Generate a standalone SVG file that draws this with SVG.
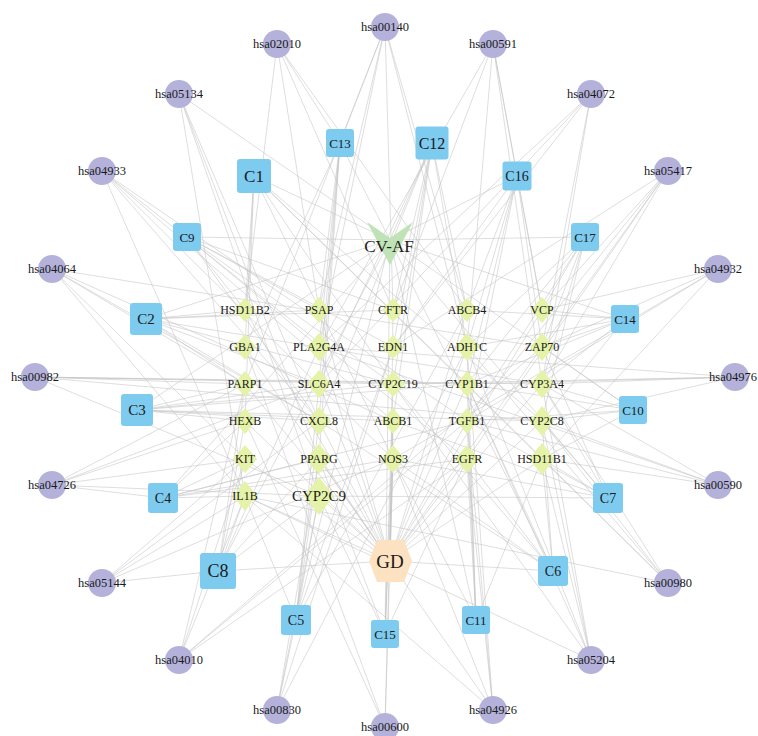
<svg xmlns="http://www.w3.org/2000/svg" width="758" height="736" viewBox="0 0 758 736">
<style>
  .bg { fill: #ffffff; }
  .edges line { stroke: #c3c3c3; stroke-width: 0.55; }
  .path circle { fill: #b4b2da; }
  .comp rect { fill: #7ecbf0; }
  .gene polygon { fill: #e5f3a8; }
  text { font-family: "Liberation Serif", "Times New Roman", serif; fill: #1a1a1a; text-anchor: middle; }
  .lp { font-size: 12.5px; }
  .lg { font-size: 12px; }
</style>
<rect class="bg" x="0" y="0" width="758" height="736"/>

<!-- connectors -->
<g id="edges" class="edges">
  <!-- CV-AF to compounds -->
  <line x1="390" y1="240" x2="254" y2="176"/>
  <line x1="390" y1="240" x2="146" y2="319"/>
  <line x1="390" y1="240" x2="137" y2="410"/>
  <line x1="390" y1="240" x2="163" y2="498"/>
  <line x1="390" y1="240" x2="296" y2="620"/>
  <line x1="390" y1="240" x2="553" y2="571"/>
  <line x1="390" y1="240" x2="608" y2="498"/>
  <line x1="390" y1="240" x2="218" y2="571"/>
  <line x1="390" y1="240" x2="187" y2="237"/>
  <line x1="390" y1="240" x2="633" y2="410"/>
  <line x1="390" y1="240" x2="476" y2="620"/>
  <line x1="390" y1="240" x2="432" y2="143"/>
  <line x1="390" y1="240" x2="340" y2="143"/>
  <line x1="390" y1="240" x2="625" y2="319"/>
  <line x1="390" y1="240" x2="385" y2="634"/>
  <line x1="390" y1="240" x2="517" y2="176"/>
  <line x1="390" y1="240" x2="585" y2="237"/>
  <!-- GD to targets -->
  <line x1="390" y1="561" x2="245" y2="310"/>
  <line x1="390" y1="561" x2="319" y2="310"/>
  <line x1="390" y1="561" x2="393" y2="310"/>
  <line x1="390" y1="561" x2="467" y2="310"/>
  <line x1="390" y1="561" x2="542" y2="310"/>
  <line x1="390" y1="561" x2="245" y2="347"/>
  <line x1="390" y1="561" x2="319" y2="347"/>
  <line x1="390" y1="561" x2="467" y2="347"/>
  <line x1="390" y1="561" x2="542" y2="347"/>
  <line x1="390" y1="561" x2="245" y2="384"/>
  <line x1="390" y1="561" x2="319" y2="384"/>
  <line x1="390" y1="561" x2="467" y2="384"/>
  <line x1="390" y1="561" x2="542" y2="384"/>
  <line x1="390" y1="561" x2="245" y2="421"/>
  <line x1="390" y1="561" x2="319" y2="421"/>
  <line x1="390" y1="561" x2="393" y2="421"/>
  <line x1="390" y1="561" x2="467" y2="421"/>
  <line x1="390" y1="561" x2="542" y2="421"/>
  <line x1="390" y1="561" x2="245" y2="459"/>
  <line x1="390" y1="561" x2="319" y2="459"/>
  <line x1="390" y1="561" x2="393" y2="459"/>
  <line x1="390" y1="561" x2="467" y2="459"/>
  <line x1="390" y1="561" x2="542" y2="459"/>
  <line x1="390" y1="561" x2="245" y2="496"/>
  <line x1="390" y1="561" x2="319" y2="496"/>
  <!-- compounds to targets -->
  <line x1="254" y1="176" x2="245" y2="310"/>
  <line x1="254" y1="176" x2="245" y2="347"/>
  <line x1="254" y1="176" x2="245" y2="421"/>
  <line x1="254" y1="176" x2="393" y2="384"/>
  <line x1="254" y1="176" x2="467" y2="384"/>
  <line x1="254" y1="176" x2="542" y2="421"/>
  <line x1="254" y1="176" x2="542" y2="459"/>
  <line x1="254" y1="176" x2="393" y2="459"/>
  <line x1="146" y1="319" x2="245" y2="310"/>
  <line x1="146" y1="319" x2="319" y2="310"/>
  <line x1="146" y1="319" x2="393" y2="310"/>
  <line x1="146" y1="319" x2="245" y2="384"/>
  <line x1="146" y1="319" x2="319" y2="384"/>
  <line x1="146" y1="319" x2="393" y2="384"/>
  <line x1="146" y1="319" x2="319" y2="421"/>
  <line x1="146" y1="319" x2="542" y2="384"/>
  <line x1="137" y1="410" x2="245" y2="384"/>
  <line x1="137" y1="410" x2="319" y2="384"/>
  <line x1="137" y1="410" x2="393" y2="384"/>
  <line x1="137" y1="410" x2="245" y2="421"/>
  <line x1="137" y1="410" x2="319" y2="421"/>
  <line x1="137" y1="410" x2="393" y2="421"/>
  <line x1="137" y1="410" x2="467" y2="384"/>
  <line x1="137" y1="410" x2="542" y2="421"/>
  <line x1="163" y1="498" x2="245" y2="421"/>
  <line x1="163" y1="498" x2="245" y2="459"/>
  <line x1="163" y1="498" x2="245" y2="496"/>
  <line x1="163" y1="498" x2="319" y2="459"/>
  <line x1="163" y1="498" x2="393" y2="459"/>
  <line x1="163" y1="498" x2="467" y2="421"/>
  <line x1="163" y1="498" x2="467" y2="459"/>
  <line x1="296" y1="620" x2="245" y2="496"/>
  <line x1="296" y1="620" x2="319" y2="496"/>
  <line x1="296" y1="620" x2="319" y2="459"/>
  <line x1="296" y1="620" x2="319" y2="421"/>
  <line x1="296" y1="620" x2="319" y2="384"/>
  <line x1="296" y1="620" x2="393" y2="347"/>
  <line x1="296" y1="620" x2="467" y2="310"/>
  <line x1="553" y1="571" x2="542" y2="459"/>
  <line x1="553" y1="571" x2="542" y2="421"/>
  <line x1="553" y1="571" x2="467" y2="384"/>
  <line x1="553" y1="571" x2="393" y2="459"/>
  <line x1="553" y1="571" x2="467" y2="459"/>
  <line x1="553" y1="571" x2="393" y2="384"/>
  <line x1="553" y1="571" x2="319" y2="421"/>
  <line x1="553" y1="571" x2="390" y2="561"/>
  <line x1="608" y1="498" x2="542" y2="459"/>
  <line x1="608" y1="498" x2="542" y2="421"/>
  <line x1="608" y1="498" x2="542" y2="384"/>
  <line x1="608" y1="498" x2="542" y2="347"/>
  <line x1="608" y1="498" x2="467" y2="421"/>
  <line x1="608" y1="498" x2="393" y2="421"/>
  <line x1="608" y1="498" x2="319" y2="496"/>
  <line x1="608" y1="498" x2="393" y2="459"/>
  <line x1="218" y1="571" x2="245" y2="496"/>
  <line x1="218" y1="571" x2="245" y2="459"/>
  <line x1="218" y1="571" x2="319" y2="496"/>
  <line x1="218" y1="571" x2="319" y2="459"/>
  <line x1="218" y1="571" x2="245" y2="421"/>
  <line x1="218" y1="571" x2="245" y2="384"/>
  <line x1="218" y1="571" x2="319" y2="347"/>
  <line x1="218" y1="571" x2="390" y2="561"/>
  <line x1="187" y1="237" x2="245" y2="310"/>
  <line x1="187" y1="237" x2="319" y2="310"/>
  <line x1="187" y1="237" x2="393" y2="310"/>
  <line x1="187" y1="237" x2="319" y2="347"/>
  <line x1="187" y1="237" x2="393" y2="347"/>
  <line x1="187" y1="237" x2="393" y2="384"/>
  <line x1="187" y1="237" x2="319" y2="421"/>
  <line x1="633" y1="410" x2="542" y2="384"/>
  <line x1="633" y1="410" x2="542" y2="421"/>
  <line x1="633" y1="410" x2="467" y2="384"/>
  <line x1="633" y1="410" x2="542" y2="459"/>
  <line x1="633" y1="410" x2="467" y2="421"/>
  <line x1="633" y1="410" x2="542" y2="347"/>
  <line x1="476" y1="620" x2="467" y2="459"/>
  <line x1="476" y1="620" x2="467" y2="421"/>
  <line x1="476" y1="620" x2="393" y2="459"/>
  <line x1="476" y1="620" x2="467" y2="384"/>
  <line x1="476" y1="620" x2="467" y2="347"/>
  <line x1="476" y1="620" x2="542" y2="459"/>
  <line x1="432" y1="143" x2="393" y2="310"/>
  <line x1="432" y1="143" x2="393" y2="347"/>
  <line x1="432" y1="143" x2="467" y2="310"/>
  <line x1="432" y1="143" x2="467" y2="347"/>
  <line x1="432" y1="143" x2="393" y2="384"/>
  <line x1="432" y1="143" x2="393" y2="421"/>
  <line x1="432" y1="143" x2="319" y2="384"/>
  <line x1="432" y1="143" x2="319" y2="421"/>
  <line x1="340" y1="143" x2="319" y2="310"/>
  <line x1="340" y1="143" x2="319" y2="347"/>
  <line x1="340" y1="143" x2="319" y2="384"/>
  <line x1="340" y1="143" x2="319" y2="421"/>
  <line x1="340" y1="143" x2="245" y2="347"/>
  <line x1="340" y1="143" x2="319" y2="459"/>
  <line x1="625" y1="319" x2="542" y2="310"/>
  <line x1="625" y1="319" x2="542" y2="347"/>
  <line x1="625" y1="319" x2="467" y2="310"/>
  <line x1="625" y1="319" x2="542" y2="384"/>
  <line x1="625" y1="319" x2="467" y2="347"/>
  <line x1="625" y1="319" x2="467" y2="384"/>
  <line x1="625" y1="319" x2="542" y2="421"/>
  <line x1="385" y1="634" x2="393" y2="459"/>
  <line x1="385" y1="634" x2="393" y2="421"/>
  <line x1="385" y1="634" x2="319" y2="459"/>
  <line x1="385" y1="634" x2="319" y2="496"/>
  <line x1="385" y1="634" x2="467" y2="459"/>
  <line x1="385" y1="634" x2="393" y2="384"/>
  <line x1="517" y1="176" x2="467" y2="310"/>
  <line x1="517" y1="176" x2="467" y2="347"/>
  <line x1="517" y1="176" x2="542" y2="310"/>
  <line x1="517" y1="176" x2="542" y2="347"/>
  <line x1="517" y1="176" x2="467" y2="384"/>
  <line x1="517" y1="176" x2="467" y2="421"/>
  <line x1="517" y1="176" x2="393" y2="347"/>
  <line x1="585" y1="237" x2="542" y2="310"/>
  <line x1="585" y1="237" x2="542" y2="347"/>
  <line x1="585" y1="237" x2="542" y2="384"/>
  <line x1="585" y1="237" x2="467" y2="347"/>
  <line x1="585" y1="237" x2="542" y2="421"/>
  <line x1="585" y1="237" x2="467" y2="384"/>
  <line x1="585" y1="237" x2="467" y2="421"/>
  <!-- pathways to targets -->
  <line x1="385" y1="27" x2="393" y2="310"/>
  <line x1="385" y1="27" x2="319" y2="347"/>
  <line x1="385" y1="27" x2="467" y2="347"/>
  <line x1="385" y1="27" x2="245" y2="384"/>
  <line x1="385" y1="27" x2="319" y2="310"/>
  <line x1="385" y1="27" x2="467" y2="310"/>
  <line x1="385" y1="27" x2="340" y2="143"/>
  <line x1="493" y1="44" x2="319" y2="347"/>
  <line x1="493" y1="44" x2="467" y2="347"/>
  <line x1="493" y1="44" x2="393" y2="310"/>
  <line x1="493" y1="44" x2="542" y2="310"/>
  <line x1="493" y1="44" x2="542" y2="384"/>
  <line x1="493" y1="44" x2="517" y2="176"/>
  <line x1="591" y1="94" x2="319" y2="347"/>
  <line x1="591" y1="94" x2="542" y2="347"/>
  <line x1="591" y1="94" x2="542" y2="384"/>
  <line x1="591" y1="94" x2="319" y2="384"/>
  <line x1="591" y1="94" x2="393" y2="347"/>
  <line x1="668" y1="171" x2="542" y2="310"/>
  <line x1="668" y1="171" x2="542" y2="347"/>
  <line x1="668" y1="171" x2="542" y2="384"/>
  <line x1="668" y1="171" x2="393" y2="347"/>
  <line x1="668" y1="171" x2="467" y2="421"/>
  <line x1="668" y1="171" x2="467" y2="459"/>
  <line x1="718" y1="269" x2="542" y2="310"/>
  <line x1="718" y1="269" x2="542" y2="347"/>
  <line x1="718" y1="269" x2="467" y2="421"/>
  <line x1="718" y1="269" x2="542" y2="459"/>
  <line x1="718" y1="269" x2="393" y2="459"/>
  <line x1="735" y1="377" x2="542" y2="384"/>
  <line x1="735" y1="377" x2="542" y2="421"/>
  <line x1="735" y1="377" x2="393" y2="384"/>
  <line x1="735" y1="377" x2="467" y2="384"/>
  <line x1="735" y1="377" x2="319" y2="347"/>
  <line x1="718" y1="485" x2="542" y2="421"/>
  <line x1="718" y1="485" x2="542" y2="459"/>
  <line x1="718" y1="485" x2="542" y2="384"/>
  <line x1="718" y1="485" x2="319" y2="347"/>
  <line x1="718" y1="485" x2="467" y2="421"/>
  <line x1="668" y1="583" x2="542" y2="459"/>
  <line x1="668" y1="583" x2="542" y2="421"/>
  <line x1="668" y1="583" x2="542" y2="384"/>
  <line x1="668" y1="583" x2="467" y2="384"/>
  <line x1="668" y1="583" x2="467" y2="347"/>
  <line x1="668" y1="583" x2="245" y2="496"/>
  <line x1="591" y1="660" x2="542" y2="459"/>
  <line x1="591" y1="660" x2="542" y2="421"/>
  <line x1="591" y1="660" x2="467" y2="384"/>
  <line x1="591" y1="660" x2="542" y2="384"/>
  <line x1="591" y1="660" x2="393" y2="384"/>
  <line x1="591" y1="660" x2="467" y2="347"/>
  <line x1="591" y1="660" x2="245" y2="496"/>
  <line x1="493" y1="710" x2="467" y2="459"/>
  <line x1="493" y1="710" x2="467" y2="421"/>
  <line x1="493" y1="710" x2="393" y2="459"/>
  <line x1="493" y1="710" x2="467" y2="347"/>
  <line x1="493" y1="710" x2="319" y2="459"/>
  <line x1="493" y1="710" x2="245" y2="496"/>
  <line x1="385" y1="727" x2="393" y2="459"/>
  <line x1="385" y1="727" x2="393" y2="421"/>
  <line x1="385" y1="727" x2="245" y2="347"/>
  <line x1="385" y1="727" x2="245" y2="421"/>
  <line x1="277" y1="710" x2="319" y2="496"/>
  <line x1="277" y1="710" x2="467" y2="347"/>
  <line x1="277" y1="710" x2="393" y2="347"/>
  <line x1="277" y1="710" x2="319" y2="459"/>
  <line x1="277" y1="710" x2="296" y2="620"/>
  <line x1="179" y1="660" x2="245" y2="496"/>
  <line x1="179" y1="660" x2="245" y2="459"/>
  <line x1="179" y1="660" x2="467" y2="459"/>
  <line x1="179" y1="660" x2="467" y2="421"/>
  <line x1="179" y1="660" x2="542" y2="347"/>
  <line x1="179" y1="660" x2="245" y2="384"/>
  <line x1="102" y1="583" x2="245" y2="496"/>
  <line x1="102" y1="583" x2="245" y2="459"/>
  <line x1="102" y1="583" x2="319" y2="421"/>
  <line x1="102" y1="583" x2="393" y2="459"/>
  <line x1="102" y1="583" x2="218" y2="571"/>
  <line x1="52" y1="485" x2="319" y2="384"/>
  <line x1="52" y1="485" x2="319" y2="496"/>
  <line x1="52" y1="485" x2="245" y2="459"/>
  <line x1="52" y1="485" x2="245" y2="421"/>
  <line x1="52" y1="485" x2="245" y2="384"/>
  <line x1="52" y1="485" x2="163" y2="498"/>
  <line x1="35" y1="377" x2="245" y2="384"/>
  <line x1="35" y1="377" x2="393" y2="384"/>
  <line x1="35" y1="377" x2="542" y2="421"/>
  <line x1="35" y1="377" x2="542" y2="384"/>
  <line x1="35" y1="377" x2="467" y2="384"/>
  <line x1="35" y1="377" x2="319" y2="496"/>
  <line x1="52" y1="269" x2="245" y2="496"/>
  <line x1="52" y1="269" x2="245" y2="459"/>
  <line x1="52" y1="269" x2="319" y2="421"/>
  <line x1="52" y1="269" x2="542" y2="347"/>
  <line x1="52" y1="269" x2="393" y2="421"/>
  <line x1="52" y1="269" x2="245" y2="384"/>
  <line x1="102" y1="171" x2="467" y2="459"/>
  <line x1="102" y1="171" x2="467" y2="421"/>
  <line x1="102" y1="171" x2="245" y2="496"/>
  <line x1="102" y1="171" x2="393" y2="459"/>
  <line x1="102" y1="171" x2="319" y2="421"/>
  <line x1="102" y1="171" x2="393" y2="421"/>
  <line x1="179" y1="94" x2="319" y2="421"/>
  <line x1="179" y1="94" x2="245" y2="496"/>
  <line x1="179" y1="94" x2="319" y2="496"/>
  <line x1="179" y1="94" x2="319" y2="459"/>
  <line x1="179" y1="94" x2="390" y2="240"/>
  <line x1="277" y1="44" x2="245" y2="310"/>
  <line x1="277" y1="44" x2="393" y2="310"/>
  <line x1="277" y1="44" x2="467" y2="310"/>
  <line x1="277" y1="44" x2="319" y2="310"/>
  <line x1="277" y1="44" x2="340" y2="143"/>
</g>

<!-- pathway nodes -->
<g id="hsa00140" class="path"><circle cx="385" cy="27" r="14"/><text class="lp" x="385" y="31">hsa00140</text></g>
<g id="hsa00591" class="path"><circle cx="493" cy="44" r="14"/><text class="lp" x="493" y="48">hsa00591</text></g>
<g id="hsa04072" class="path"><circle cx="591" cy="94" r="14"/><text class="lp" x="591" y="98">hsa04072</text></g>
<g id="hsa05417" class="path"><circle cx="668" cy="171" r="14"/><text class="lp" x="668" y="175">hsa05417</text></g>
<g id="hsa04932" class="path"><circle cx="718" cy="269" r="14"/><text class="lp" x="718" y="273">hsa04932</text></g>
<g id="hsa04976" class="path"><circle cx="735" cy="377" r="14"/><text class="lp" x="733" y="381">hsa04976</text></g>
<g id="hsa00590" class="path"><circle cx="718" cy="485" r="14"/><text class="lp" x="718" y="489">hsa00590</text></g>
<g id="hsa00980" class="path"><circle cx="668" cy="583" r="14"/><text class="lp" x="668" y="587">hsa00980</text></g>
<g id="hsa05204" class="path"><circle cx="591" cy="660" r="14"/><text class="lp" x="591" y="664">hsa05204</text></g>
<g id="hsa04926" class="path"><circle cx="493" cy="710" r="14"/><text class="lp" x="493" y="714">hsa04926</text></g>
<g id="hsa00600" class="path"><circle cx="385" cy="727" r="14"/><text class="lp" x="385" y="731">hsa00600</text></g>
<g id="hsa00830" class="path"><circle cx="277" cy="710" r="14"/><text class="lp" x="277" y="714">hsa00830</text></g>
<g id="hsa04010" class="path"><circle cx="179" cy="660" r="14"/><text class="lp" x="179" y="664">hsa04010</text></g>
<g id="hsa05144" class="path"><circle cx="102" cy="583" r="14"/><text class="lp" x="102" y="587">hsa05144</text></g>
<g id="hsa04726" class="path"><circle cx="52" cy="485" r="14"/><text class="lp" x="52" y="489">hsa04726</text></g>
<g id="hsa00982" class="path"><circle cx="35" cy="377" r="14"/><text class="lp" x="35" y="381">hsa00982</text></g>
<g id="hsa04064" class="path"><circle cx="52" cy="269" r="14"/><text class="lp" x="52" y="273">hsa04064</text></g>
<g id="hsa04933" class="path"><circle cx="102" cy="171" r="14"/><text class="lp" x="102" y="175">hsa04933</text></g>
<g id="hsa05134" class="path"><circle cx="179" cy="94" r="14"/><text class="lp" x="179" y="98">hsa05134</text></g>
<g id="hsa02010" class="path"><circle cx="277" cy="44" r="14"/><text class="lp" x="277" y="48">hsa02010</text></g>

<!-- compound nodes -->
<g id="C1" class="comp"><rect x="237" y="159" width="34" height="34" rx="3"/><text x="254" y="182" font-size="17">C1</text></g>
<g id="C2" class="comp"><rect x="130" y="303" width="32" height="32" rx="3"/><text x="146" y="324" font-size="15">C2</text></g>
<g id="C3" class="comp"><rect x="121" y="394" width="32" height="32" rx="3"/><text x="137" y="415" font-size="15">C3</text></g>
<g id="C4" class="comp"><rect x="148" y="483" width="30" height="30" rx="3"/><text x="163" y="503" font-size="14">C4</text></g>
<g id="C5" class="comp"><rect x="281" y="605" width="30" height="30" rx="3"/><text x="296" y="625" font-size="14">C5</text></g>
<g id="C6" class="comp"><rect x="538" y="556" width="30" height="30" rx="3"/><text x="553" y="576" font-size="14">C6</text></g>
<g id="C7" class="comp"><rect x="593" y="483" width="30" height="30" rx="3"/><text x="608" y="503" font-size="14">C7</text></g>
<g id="C8" class="comp"><rect x="200" y="553" width="36" height="36" rx="3"/><text x="218" y="577" font-size="18">C8</text></g>
<g id="C9" class="comp"><rect x="173" y="223" width="28" height="28" rx="3"/><text x="187" y="242" font-size="13">C9</text></g>
<g id="C10" class="comp"><rect x="619" y="396" width="28" height="28" rx="3"/><text x="633" y="415" font-size="13">C10</text></g>
<g id="C11" class="comp"><rect x="462" y="606" width="28" height="28" rx="3"/><text x="476" y="625" font-size="13">C11</text></g>
<g id="C12" class="comp"><rect x="415.5" y="126.5" width="33" height="33" rx="3"/><text x="432" y="149" font-size="16">C12</text></g>
<g id="C13" class="comp"><rect x="326" y="129" width="28" height="28" rx="3"/><text x="340" y="148" font-size="13">C13</text></g>
<g id="C14" class="comp"><rect x="611" y="305" width="28" height="28" rx="3"/><text x="625" y="324" font-size="13">C14</text></g>
<g id="C15" class="comp"><rect x="371" y="620" width="28" height="28" rx="3"/><text x="385" y="639" font-size="13">C15</text></g>
<g id="C16" class="comp"><rect x="502.5" y="161.5" width="29" height="29" rx="3"/><text x="517" y="181" font-size="14">C16</text></g>
<g id="C17" class="comp"><rect x="571" y="223" width="28" height="28" rx="3"/><text x="585" y="242" font-size="13">C17</text></g>

<!-- target nodes -->
<g id="HSD11B2" class="gene"><polygon points="245,298 256,310 245,322 234,310"/><text class="lg" x="245" y="314">HSD11B2</text></g>
<g id="PSAP" class="gene"><polygon points="319,297 330,310 319,323 308,310"/><text class="lg" x="319" y="314">PSAP</text></g>
<g id="CFTR" class="gene"><polygon points="393,298 404,310 393,322 382,310"/><text class="lg" x="393" y="314">CFTR</text></g>
<g id="ABCB4" class="gene"><polygon points="467,298 478,310 467,322 456,310"/><text class="lg" x="467" y="314">ABCB4</text></g>
<g id="VCP" class="gene"><polygon points="542,297 553,310 542,323 531,310"/><text class="lg" x="542" y="314">VCP</text></g>
<g id="GBA1" class="gene"><polygon points="245,334 256,347 245,360 234,347"/><text class="lg" x="245" y="351">GBA1</text></g>
<g id="PLA2G4A" class="gene"><polygon points="319,333 331,347 319,361 307,347"/><text class="lg" x="319" y="351">PLA2G4A</text></g>
<g id="EDN1" class="gene"><polygon points="393,335 404,347 393,359 382,347"/><text class="lg" x="393" y="351">EDN1</text></g>
<g id="ADH1C" class="gene"><polygon points="467,333 479,347 467,361 455,347"/><text class="lg" x="467" y="351">ADH1C</text></g>
<g id="ZAP70" class="gene"><polygon points="542,333 554,347 542,361 530,347"/><text class="lg" x="542" y="351">ZAP70</text></g>
<g id="PARP1" class="gene"><polygon points="245,371 256,384 245,397 234,384"/><text class="lg" x="245" y="388">PARP1</text></g>
<g id="SLC6A4" class="gene"><polygon points="319,370 331,384 319,398 307,384"/><text class="lg" x="319" y="388">SLC6A4</text></g>
<g id="CYP2C19" class="gene"><polygon points="393,371 405,384 393,397 381,384"/><text class="lg" x="393" y="388">CYP2C19</text></g>
<g id="CYP1B1" class="gene"><polygon points="467,371 478,384 467,397 456,384"/><text class="lg" x="467" y="388">CYP1B1</text></g>
<g id="CYP3A4" class="gene"><polygon points="542,370 554,384 542,398 530,384"/><text class="lg" x="542" y="388">CYP3A4</text></g>
<g id="HEXB" class="gene"><polygon points="245,408 256,421 245,434 234,421"/><text class="lg" x="245" y="425">HEXB</text></g>
<g id="CXCL8" class="gene"><polygon points="319,407 331,421 319,435 307,421"/><text class="lg" x="319" y="425">CXCL8</text></g>
<g id="ABCB1" class="gene"><polygon points="393,408 404,421 393,434 382,421"/><text class="lg" x="393" y="425">ABCB1</text></g>
<g id="TGFB1" class="gene"><polygon points="467,408 478,421 467,434 456,421"/><text class="lg" x="467" y="425">TGFB1</text></g>
<g id="CYP2C8" class="gene"><polygon points="542,406 554,421 542,436 530,421"/><text class="lg" x="542" y="425">CYP2C8</text></g>
<g id="KIT" class="gene"><polygon points="245,445 257,459 245,473 233,459"/><text class="lg" x="245" y="463">KIT</text></g>
<g id="PPARG" class="gene"><polygon points="319,444 332,459 319,474 306,459"/><text class="lg" x="319" y="463">PPARG</text></g>
<g id="NOS3" class="gene"><polygon points="393,445 405,459 393,473 381,459"/><text class="lg" x="393" y="463">NOS3</text></g>
<g id="EGFR" class="gene"><polygon points="467,445 479,459 467,473 455,459"/><text class="lg" x="467" y="463">EGFR</text></g>
<g id="HSD11B1" class="gene"><polygon points="542,443 555,459 542,475 529,459"/><text class="lg" x="542" y="463">HSD11B1</text></g>
<g id="IL1B" class="gene"><polygon points="245,481 257,496 245,511 233,496"/><text class="lg" x="245" y="500">IL1B</text></g>
<g id="CYP2C9" class="gene"><polygon points="319,477 334,496 319,515 304,496"/><text x="319" y="501" font-size="15">CYP2C9</text></g>

<!-- herb node -->
<g id="CV-AF"><polygon points="367,222 390,238 413,222 390,265" fill="#bfe3b6"/><text x="389" y="252" font-size="17">CV-AF</text></g>

<!-- disease node -->
<g id="GD"><polygon points="369,561 377,540 404,540 412,561 404,582 377,582" fill="#fce2c1"/><text x="390" y="568" font-size="19">GD</text></g>
</svg>
